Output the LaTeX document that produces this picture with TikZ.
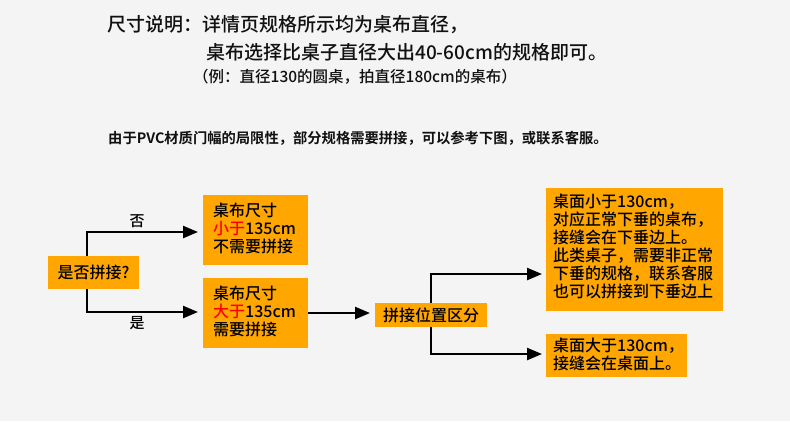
\documentclass[tikz,border=0pt]{standalone}
\usepackage{fontspec}
\setmainfont{Noto Sans CJK SC}[UprightFont=* Medium, BoldFont=* Bold]
\usetikzlibrary{arrows.meta}
\definecolor{bg}{HTML}{F4F4F4}
\definecolor{boxfill}{HTML}{FFA700}
\definecolor{hot}{HTML}{FF0000}
\definecolor{ink}{HTML}{111111}
\tikzset{
  boxtext/.style={anchor=north west, align=left, font=\fontsize{16}{18}\selectfont, inner sep=0pt},
  conn/.style={line width=2.4pt, -{Triangle[length=15pt,width=12pt]}},
  lbl/.style={font=\fontsize{15}{18}\selectfont, inner sep=0pt},
  head/.style={anchor=west, inner sep=0pt, text=ink, font=\fontsize{19}{20}\selectfont},
  sub/.style={anchor=west, inner sep=0pt, text=ink, font=\bfseries\fontsize{14.3}{16}\selectfont},
}
\begin{document}
\begin{tikzpicture}[x=1pt,y=-1pt]
\fill[bg] (0,0) rectangle (790,421);
\useasboundingbox (0,0) rectangle (790,421);
% header text
\node[head] (t1) at (107,25) {尺寸说明：详情页规格所示均为桌布直径，};
\node[head] (t2) at (206,52) {桌布选择比桌子直径大出40-60cm的规格即可。};
\node[sub, font=\fontsize{15.5}{16}\selectfont] (t3) at (193,77) {（例：直径130的圆桌，拍直径180cm的桌布）};
\node[sub] (t4) at (108,138) {由于PVC材质门幅的局限性，部分规格需要拼接，可以参考下图，或联系客服。};
% boxes
\fill[boxfill] (48,256) rectangle (139,289);
\node[lbl, font=\fontsize{16}{18}\selectfont] (q) at (93.5,272.5) {是否拼接?};
\coordinate (qn) at (87,256);
\coordinate (qs) at (87,289);

\fill[boxfill] (203,195) rectangle (308,265);
\node[boxtext] (b1) at (213,203) {桌布尺寸\\\textcolor{hot}{小于}135cm\\不需要拼接};
\coordinate (b1w) at (203,232);

\fill[boxfill] (203,278) rectangle (308,348);
\node[boxtext] (b2) at (213,286) {桌布尺寸\\\textcolor{hot}{大于}135cm\\需要拼接};
\coordinate (b2w) at (203,312);
\coordinate (b2e) at (308,313);

\fill[boxfill] (375,303) rectangle (487,327);
\node[lbl, font=\fontsize{16}{18}\selectfont] (p) at (431,315) {拼接位置区分};
\coordinate (pw) at (375,313);
\coordinate (pn) at (431,303);
\coordinate (ps) at (431,327);

\fill[boxfill] (546,188) rectangle (723,311);
\node[boxtext] (r1) at (553,194) {桌面小于130cm，\\对应正常下垂的桌布，\\接缝会在下垂边上。\\此类桌子，需要非正常\\下垂的规格，联系客服\\也可以拼接到下垂边上};
\coordinate (r1w) at (546,274);

\fill[boxfill] (546,334) rectangle (687,377);
\node[boxtext] (r2) at (553,338) {桌面大于130cm，\\接缝会在桌面上。};
\coordinate (r2w) at (546,354);

% connectors
\draw[conn, shorten >=5pt] (qn) |- (b1w);
\draw[conn, shorten >=5pt] (qs) |- (b2w);
\node[lbl] (no) at (137,221) {否};
\node[lbl] (yes) at (137,323) {是};
\draw[conn, shorten >=5pt] (b2e) -- (pw);
\draw[conn, shorten >=4pt] (pn) |- (r1w);
\draw[conn, shorten >=4pt] (ps) |- (r2w);
\end{tikzpicture}
\end{document}
